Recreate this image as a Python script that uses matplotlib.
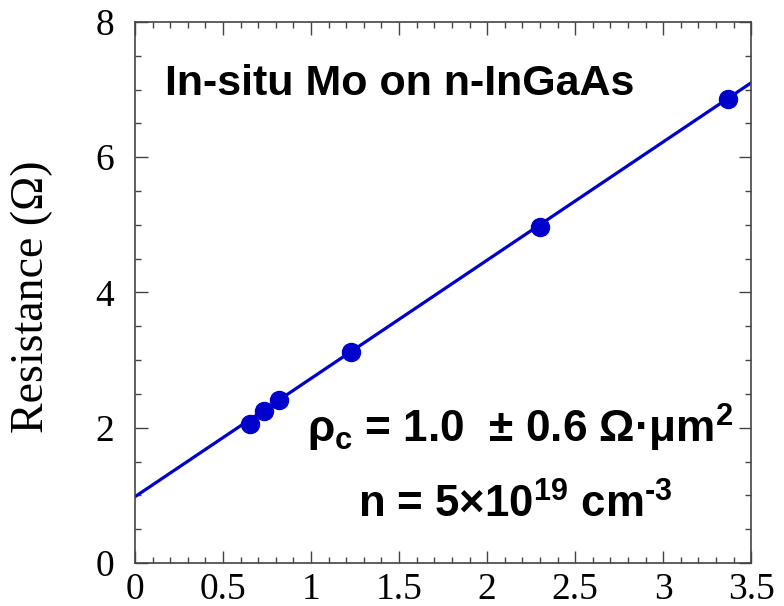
import matplotlib
matplotlib.use('Agg')
import matplotlib.pyplot as plt
import numpy as np
from matplotlib.ticker import MultipleLocator, FuncFormatter

# fonts: serif ticks, bold sans annotations
plt.rcParams['font.family'] = ['Liberation Serif', 'DejaVu Serif']
plt.rcParams['mathtext.fontset'] = 'custom'
plt.rcParams['mathtext.rm'] = 'Liberation Sans:bold'
plt.rcParams['mathtext.it'] = 'Liberation Sans:bold'
plt.rcParams['mathtext.bf'] = 'Liberation Sans:bold'

# data
spacing = [0.653, 0.733, 0.818, 1.227, 2.30, 3.37]
resistance = [2.06, 2.25, 2.41, 3.12, 4.97, 6.86]
fit_intercept = 0.98
fit_slope = 1.749
title_text = 'In-situ Mo on n-InGaAs'
rho_text = r'$\rho_c$ = 1.0  ± 0.6 Ω·μm$^2$'
n_text = r'n = 5×10$^{19}$ cm$^{\text{-3}}$'

blue = '#0000CC'

fig = plt.figure(figsize=(7.84, 6.06), dpi=100)
ax = fig.add_axes([0.1722, 0.071, 0.7860, 0.8927])

xfit = np.array([0, 3.5])
ax.plot(xfit, fit_intercept + fit_slope * xfit, color=blue, lw=2.3, zorder=2)
ax.plot(spacing, resistance, 'o', color=blue, ms=13, zorder=3)

ax.set_xlim(0, 3.5)
ax.set_ylim(0, 8)
ax.xaxis.set_major_locator(MultipleLocator(0.5))
ax.xaxis.set_minor_locator(MultipleLocator(0.1))
ax.yaxis.set_major_locator(MultipleLocator(2))
ax.yaxis.set_minor_locator(MultipleLocator(0.5))
ax.xaxis.set_major_formatter(FuncFormatter(lambda v, p: f'{v:g}'))
ax.tick_params(which='both', direction='in', top=True, right=True, width=1,
               labelsize=27, color='#444444')
ax.tick_params(which='major', length=9)
ax.tick_params(which='minor', length=4.5)
ax.tick_params(axis='x', which='major', pad=7)
ax.tick_params(axis='y', which='major', pad=15)
for s in ax.spines.values():
    s.set_linewidth(1.2)
    s.set_color('#444444')

ax.set_ylabel('Resistance (Ω)', fontsize=33)
ax.yaxis.set_label_coords(-0.133, 0.492)

bold_font = ['Liberation Sans', 'DejaVu Sans']
ax.text(0.0487, 0.865, title_text, transform=ax.transAxes, fontsize=31,
        fontweight='bold', family=bold_font, va='baseline', ha='left')
ax.text(0.279, 0.222, rho_text, transform=ax.transAxes, fontsize=31.8,
        fontweight='bold', family=bold_font, va='baseline', ha='left')
ax.text(0.362, 0.0832, n_text, transform=ax.transAxes, fontsize=31.5,
        fontweight='bold', family=bold_font, va='baseline', ha='left')

fig.savefig('out.png', dpi=100)
